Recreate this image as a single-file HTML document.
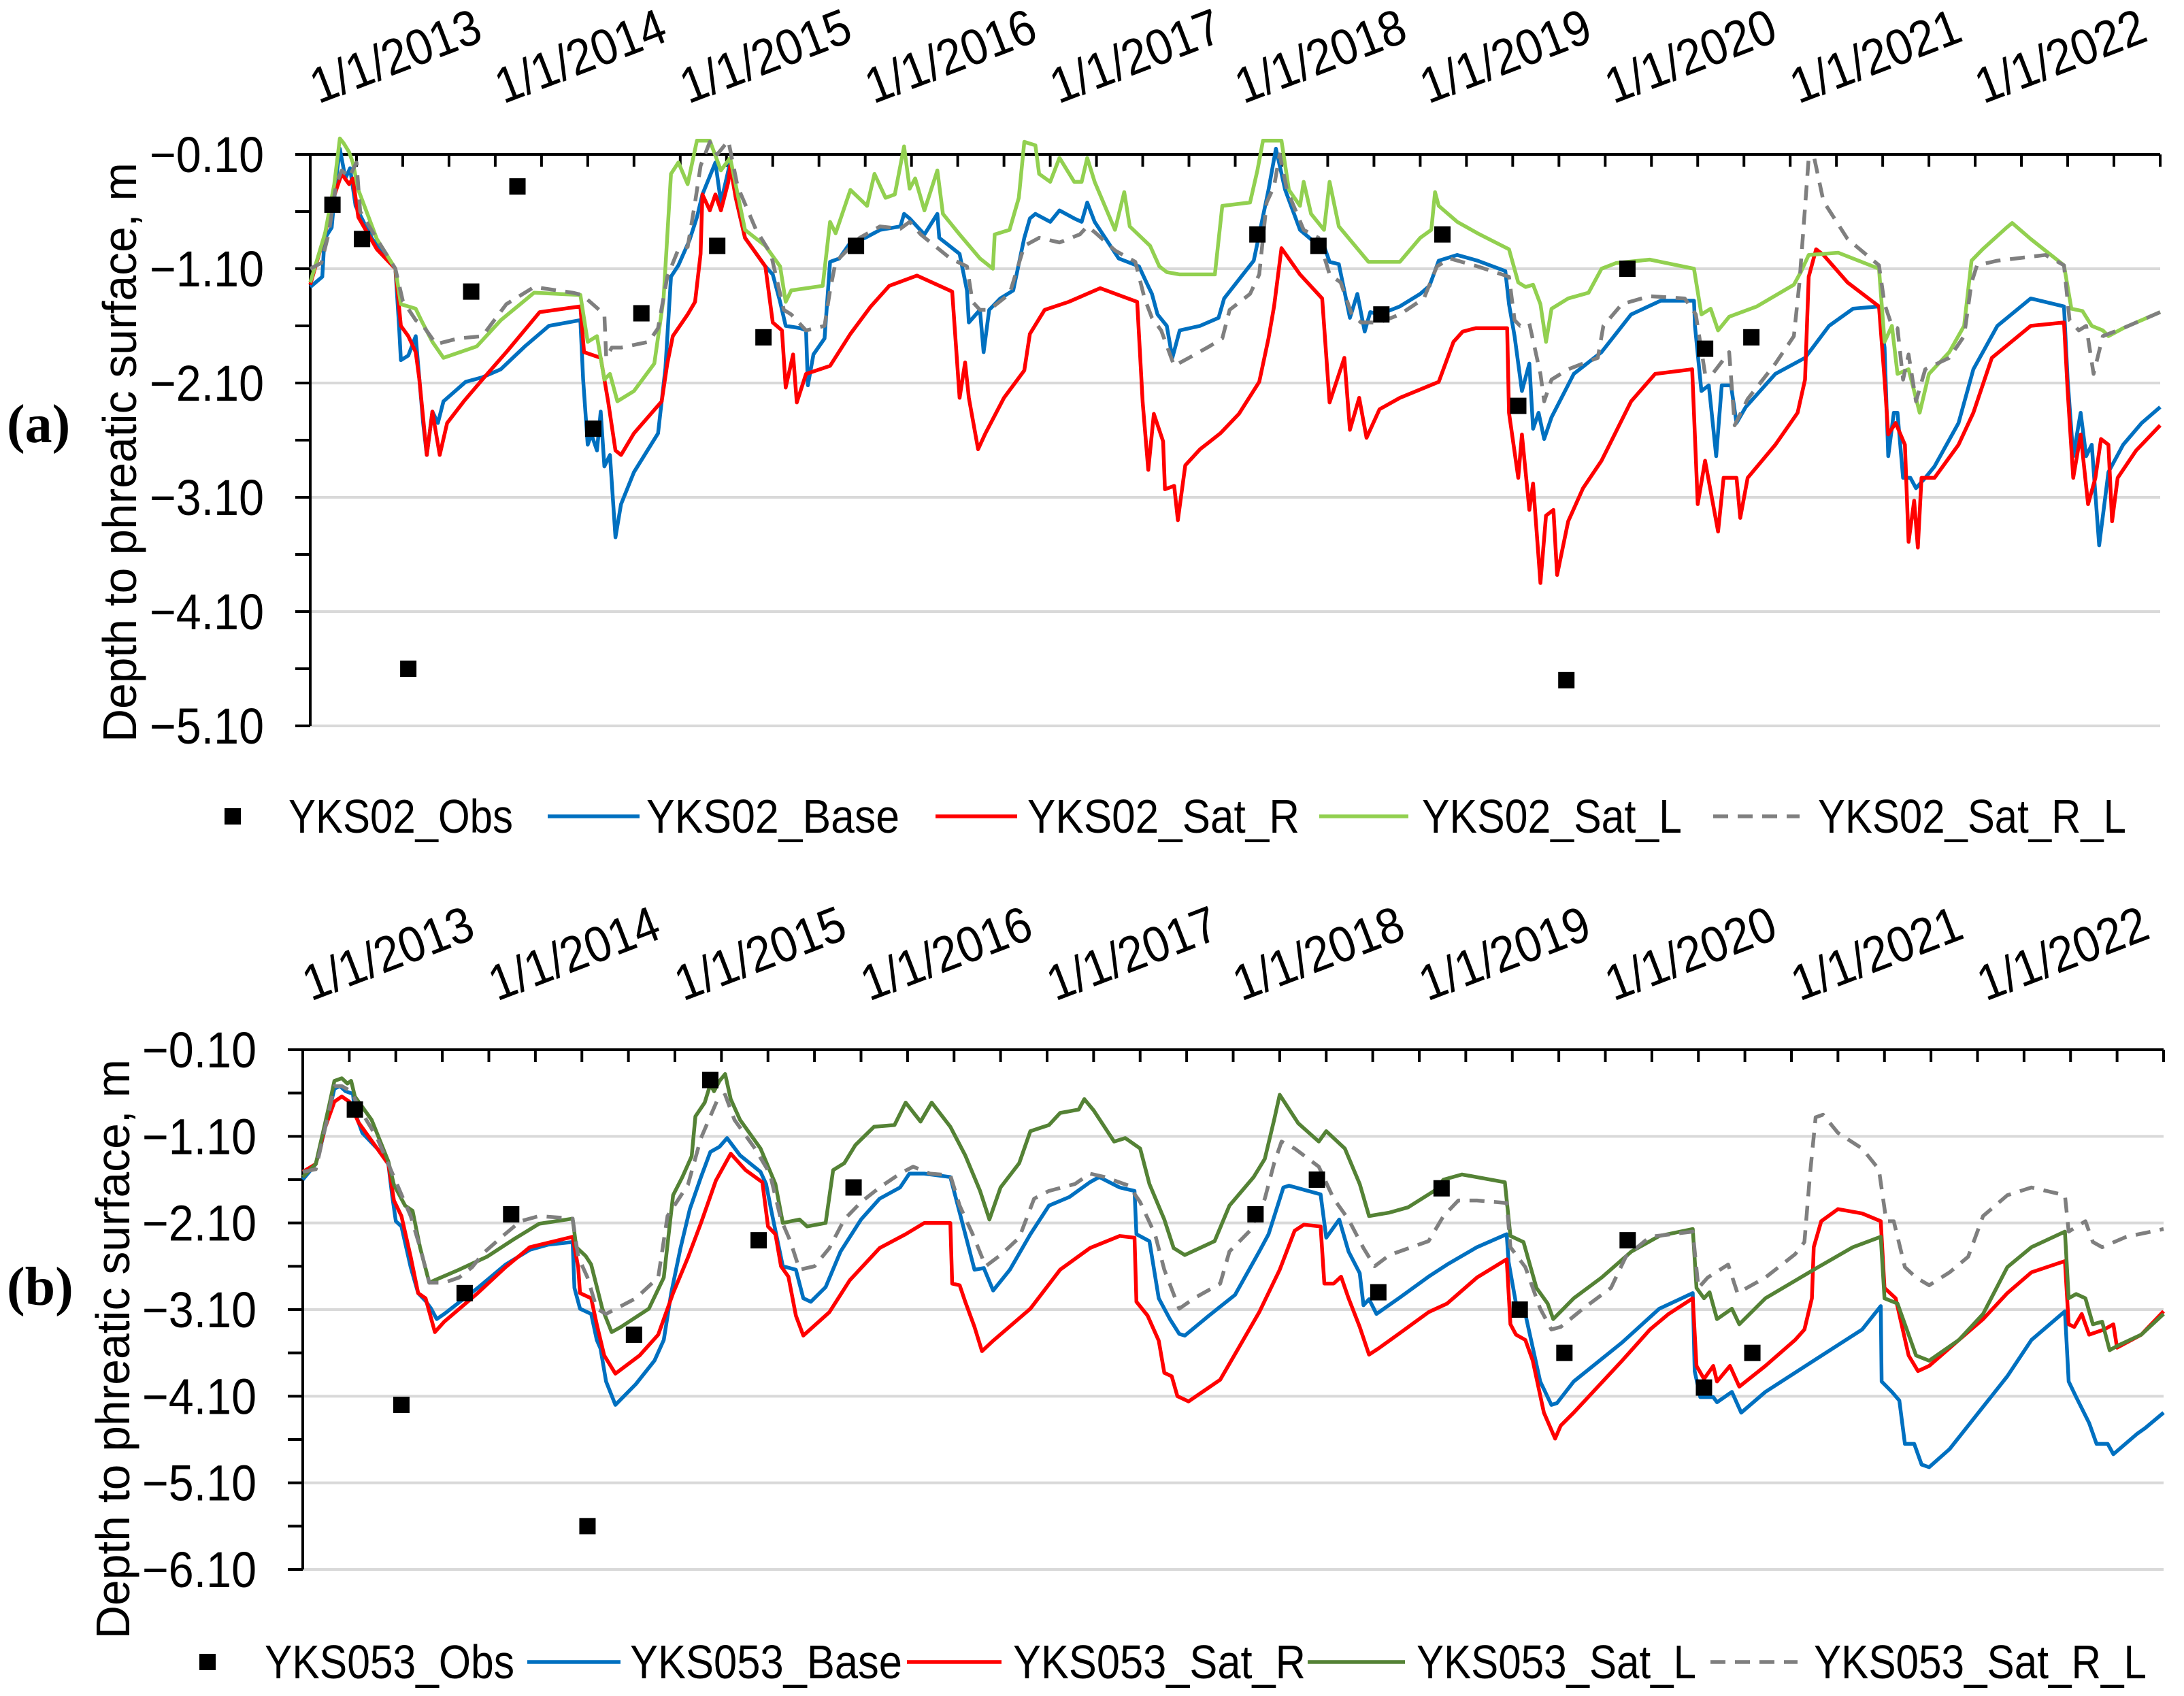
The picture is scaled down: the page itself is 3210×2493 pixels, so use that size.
<!DOCTYPE html>
<html><head><meta charset="utf-8">
<style>
html,body{margin:0;padding:0;background:#fff;}
svg{display:block;}
text{font-family:"Liberation Sans",sans-serif;fill:#000;}
</style></head>
<body>
<svg id="chart" width="3210" height="2493" viewBox="0 0 3210 2493" xmlns="http://www.w3.org/2000/svg">
<rect x="0" y="0" width="3210" height="2493" fill="#fff"/>
<g id="panelA"></g>
<g id="panelB"></g>
</svg>
<script>
// ---------- shared axis data ----------
const yearLabels = ["1/1/2013","1/1/2014","1/1/2015","1/1/2016","1/1/2017","1/1/2018","1/1/2019","1/1/2020","1/1/2021","1/1/2022"];
const yTicksA = [-0.10,-1.10,-2.10,-3.10,-4.10,-5.10];
const yTicksB = [-0.10,-1.10,-2.10,-3.10,-4.10,-5.10,-6.10];

// ---------- panel (a) YKS02 data: t = years since 1/1/2013, v = depth (m) ----------
const aObsT = [0.12,0.28,0.53,0.87,1.12,1.53,1.79,2.20,2.45,2.95,5.12,5.45,5.79,6.12,6.53,6.79,7.12,7.54,7.79];
const aObsV = [-0.54,-0.84,-4.60,-1.30,-0.38,-2.50,-1.49,-0.90,-1.70,-0.90,-0.80,-0.90,-1.50,-0.80,-2.30,-4.70,-1.10,-1.80,-1.70];

const aBaseT = [0,0.065,0.077,0.116,0.14,0.16,0.19,0.215,0.245,0.335,0.46,0.48,0.49,0.53,0.57,0.61,0.63,0.66,0.69,0.72,0.84,0.93,1.03,1.16,1.29,1.46,1.475,1.50,1.52,1.55,1.57,1.59,1.62,1.65,1.68,1.75,1.88,1.92,1.95,1.99,2.05,2.09,2.12,2.19,2.22,2.27,2.30,2.35,2.46,2.50,2.54,2.57,2.65,2.68,2.69,2.72,2.78,2.81,2.86,2.92,3.0,3.08,3.19,3.21,3.24,3.32,3.39,3.40,3.51,3.55,3.56,3.62,3.64,3.67,3.73,3.80,3.86,3.89,3.92,4.0,4.05,4.13,4.17,4.2,4.24,4.37,4.48,4.52,4.55,4.58,4.63,4.66,4.70,4.81,4.91,4.94,5.10,5.13,5.18,5.22,5.27,5.35,5.43,5.48,5.51,5.56,5.62,5.66,5.70,5.73,5.78,5.89,6.0,6.05,6.10,6.20,6.31,6.46,6.48,6.51,6.55,6.59,6.61,6.64,6.67,6.71,6.83,6.98,7.14,7.30,7.48,7.485,7.52,7.56,7.60,7.63,7.68,7.71,7.76,7.92,8.08,8.21,8.34,8.48,8.51,8.53,8.56,8.58,8.61,8.65,8.68,8.73,8.78,8.91,8.99,9.12,9.30,9.48,9.50,9.53,9.57,9.60,9.63,9.67,9.72,9.80,9.90,10.0];
const aBaseV = [-1.26,-1.17,-0.84,-0.74,-0.31,-0.05,-0.31,-0.22,-0.55,-0.84,-1.10,-1.60,-1.90,-1.86,-1.69,-2.45,-2.73,-2.35,-2.45,-2.26,-2.09,-2.05,-1.98,-1.78,-1.60,-1.55,-2.07,-2.64,-2.55,-2.69,-2.35,-2.83,-2.73,-3.45,-3.16,-2.88,-2.54,-1.97,-1.17,-1.07,-0.85,-0.65,-0.45,-0.17,-0.52,-0.17,-0.48,-0.83,-1.08,-1.15,-1.39,-1.60,-1.62,-1.64,-2.12,-1.85,-1.71,-1.04,-1.01,-0.87,-0.83,-0.76,-0.73,-0.62,-0.66,-0.80,-0.62,-0.83,-0.97,-1.29,-1.57,-1.46,-1.83,-1.46,-1.36,-1.29,-0.83,-0.66,-0.62,-0.69,-0.59,-0.66,-0.69,-0.52,-0.69,-1.01,-1.08,-1.22,-1.32,-1.50,-1.60,-1.88,-1.64,-1.60,-1.53,-1.36,-1.03,-0.80,-0.41,-0.05,-0.41,-0.76,-0.87,-0.90,-1.04,-1.06,-1.53,-1.32,-1.65,-1.48,-1.50,-1.43,-1.32,-1.25,-1.03,-0.98,-1.03,-1.12,-1.41,-1.69,-2.17,-1.93,-2.50,-2.36,-2.59,-2.40,-2.02,-1.83,-1.50,-1.38,-1.38,-1.60,-2.17,-2.12,-2.74,-2.12,-2.12,-2.45,-2.31,-2.02,-1.88,-1.60,-1.45,-1.43,-1.79,-2.74,-2.36,-2.36,-2.93,-2.93,-3.02,-2.93,-2.83,-2.45,-1.98,-1.60,-1.36,-1.43,-2.07,-2.74,-2.36,-2.74,-2.64,-3.52,-2.88,-2.64,-2.45,-2.31];

const aSatRT = [0,0.08,0.13,0.17,0.21,0.23,0.26,0.36,0.46,0.49,0.53,0.57,0.59,0.63,0.66,0.70,0.74,0.83,0.93,1.06,1.24,1.46,1.48,1.57,1.61,1.65,1.68,1.75,1.90,1.93,1.96,2.04,2.08,2.11,2.12,2.16,2.19,2.22,2.26,2.27,2.30,2.35,2.46,2.50,2.55,2.57,2.61,2.63,2.68,2.81,2.92,3.03,3.13,3.28,3.47,3.51,3.54,3.56,3.61,3.65,3.75,3.86,3.89,3.97,4.10,4.27,4.47,4.50,4.53,4.56,4.61,4.62,4.67,4.69,4.73,4.81,4.92,5.02,5.13,5.18,5.21,5.25,5.35,5.47,5.51,5.59,5.62,5.67,5.71,5.78,5.89,6.10,6.18,6.23,6.30,6.47,6.48,6.53,6.55,6.59,6.61,6.65,6.68,6.72,6.74,6.80,6.88,6.98,7.14,7.27,7.47,7.50,7.54,7.61,7.64,7.71,7.73,7.77,7.92,8.04,8.08,8.10,8.14,8.18,8.31,8.48,8.51,8.53,8.57,8.62,8.64,8.67,8.69,8.71,8.78,8.91,8.99,9.09,9.30,9.48,9.50,9.53,9.57,9.61,9.65,9.68,9.72,9.74,9.77,9.87,10.0];
const aSatRV = [-1.24,-0.79,-0.46,-0.27,-0.36,-0.31,-0.65,-0.93,-1.10,-1.60,-1.69,-1.83,-2.07,-2.73,-2.35,-2.73,-2.45,-2.26,-2.07,-1.83,-1.48,-1.43,-1.83,-1.88,-2.26,-2.69,-2.73,-2.54,-2.26,-1.93,-1.69,-1.50,-1.39,-0.97,-0.45,-0.59,-0.45,-0.59,-0.34,-0.20,-0.48,-0.83,-1.08,-1.57,-1.64,-2.14,-1.85,-2.27,-2.02,-1.95,-1.67,-1.43,-1.25,-1.16,-1.30,-2.23,-1.92,-2.23,-2.68,-2.54,-2.23,-1.99,-1.67,-1.46,-1.39,-1.27,-1.39,-2.27,-2.86,-2.37,-2.61,-3.03,-3.00,-3.30,-2.82,-2.68,-2.54,-2.37,-2.09,-1.71,-1.43,-0.92,-1.15,-1.36,-2.27,-1.88,-2.51,-2.23,-2.58,-2.33,-2.23,-2.09,-1.74,-1.65,-1.62,-1.62,-2.36,-2.93,-2.55,-3.21,-2.98,-3.85,-3.26,-3.21,-3.78,-3.31,-3.02,-2.78,-2.26,-2.02,-1.98,-3.16,-2.78,-3.40,-2.93,-2.93,-3.28,-2.93,-2.64,-2.36,-2.07,-1.17,-0.93,-0.98,-1.22,-1.43,-2.07,-2.55,-2.45,-2.64,-3.49,-3.13,-3.54,-2.93,-2.93,-2.64,-2.36,-1.88,-1.60,-1.57,-2.17,-2.93,-2.55,-3.16,-2.93,-2.59,-2.64,-3.31,-2.93,-2.69,-2.47];

const aSatLT = [0,0.08,0.13,0.16,0.18,0.21,0.23,0.26,0.36,0.46,0.49,0.57,0.60,0.66,0.72,0.90,1.03,1.21,1.46,1.50,1.55,1.59,1.62,1.66,1.75,1.86,1.91,1.95,1.99,2.04,2.09,2.16,2.22,2.27,2.35,2.46,2.54,2.57,2.60,2.77,2.81,2.84,2.92,3.01,3.05,3.11,3.16,3.21,3.24,3.27,3.32,3.39,3.42,3.51,3.62,3.69,3.70,3.78,3.83,3.86,3.92,3.94,4.0,4.05,4.13,4.17,4.2,4.24,4.35,4.40,4.43,4.54,4.59,4.63,4.70,4.89,4.93,5.08,5.12,5.15,5.25,5.29,5.35,5.37,5.41,5.48,5.51,5.56,5.72,5.89,6.0,6.06,6.08,6.10,6.20,6.31,6.48,6.53,6.57,6.61,6.65,6.68,6.71,6.80,6.91,6.98,7.06,7.24,7.48,7.52,7.57,7.61,7.67,7.82,8.02,8.06,8.10,8.26,8.48,8.51,8.55,8.58,8.64,8.70,8.75,8.86,8.94,8.98,9.04,9.17,9.20,9.30,9.48,9.52,9.58,9.63,9.69,9.72,9.80,10.0];
const aSatLV = [-1.22,-0.79,-0.36,0.04,0.0,-0.08,-0.17,-0.41,-0.84,-1.10,-1.41,-1.45,-1.55,-1.74,-1.88,-1.78,-1.55,-1.31,-1.33,-1.74,-1.69,-2.07,-2.02,-2.26,-2.17,-1.93,-1.36,-0.27,-0.17,-0.36,0.02,0.02,-0.24,-0.13,-0.76,-0.90,-1.08,-1.39,-1.29,-1.25,-0.69,-0.79,-0.41,-0.55,-0.27,-0.48,-0.45,-0.03,-0.40,-0.31,-0.59,-0.24,-0.62,-0.80,-1.01,-1.10,-0.80,-0.76,-0.48,0.01,-0.02,-0.27,-0.34,-0.13,-0.34,-0.34,-0.13,-0.34,-0.76,-0.43,-0.73,-0.90,-1.08,-1.13,-1.15,-1.15,-0.55,-0.52,-0.24,0.02,0.02,-0.41,-0.55,-0.34,-0.62,-0.76,-0.34,-0.73,-1.04,-1.04,-0.83,-0.76,-0.43,-0.55,-0.69,-0.79,-0.93,-1.22,-1.26,-1.24,-1.41,-1.74,-1.45,-1.36,-1.31,-1.10,-1.05,-1.02,-1.10,-1.50,-1.45,-1.64,-1.52,-1.43,-1.24,-1.12,-0.98,-0.96,-1.10,-1.74,-1.60,-2.02,-1.98,-2.36,-2.02,-1.83,-1.60,-1.03,-0.93,-0.74,-0.70,-0.84,-1.07,-1.45,-1.47,-1.60,-1.64,-1.69,-1.62,-1.48];

const aSatRLT = [0,0.06,0.10,0.14,0.17,0.21,0.25,0.27,0.36,0.46,0.50,0.57,0.61,0.65,0.68,0.80,0.93,1.06,1.21,1.42,1.47,1.59,1.60,1.63,1.68,1.83,1.88,1.93,1.99,2.04,2.08,2.11,2.16,2.20,2.26,2.31,2.41,2.49,2.56,2.60,2.68,2.78,2.81,2.84,2.97,3.08,3.19,3.24,3.30,3.46,3.55,3.58,3.62,3.67,3.78,3.86,3.94,4.05,4.16,4.20,4.24,4.35,4.46,4.51,4.55,4.60,4.67,4.75,4.86,4.93,4.97,5.08,5.13,5.17,5.21,5.24,5.28,5.37,5.45,5.51,5.57,5.63,5.68,5.78,5.89,6.02,6.09,6.16,6.31,6.48,6.51,6.54,6.59,6.65,6.67,6.71,6.80,6.96,6.99,7.09,7.24,7.43,7.49,7.54,7.58,7.67,7.70,7.77,7.92,8.02,8.05,8.10,8.13,8.18,8.31,8.48,8.51,8.55,8.58,8.61,8.64,8.68,8.73,8.86,8.94,8.98,9.01,9.12,9.38,9.48,9.51,9.56,9.60,9.64,9.69,9.80,10.0];
const aSatRLV = [-1.10,-1.05,-0.79,-0.36,-0.24,-0.30,-0.17,-0.60,-0.84,-1.10,-1.38,-1.55,-1.60,-1.69,-1.76,-1.71,-1.69,-1.41,-1.26,-1.31,-1.33,-1.50,-1.88,-1.79,-1.79,-1.74,-1.62,-1.17,-0.93,-0.91,-0.52,-0.20,0.01,-0.10,0.02,-0.38,-0.76,-0.97,-1.46,-1.50,-1.64,-1.60,-1.29,-1.04,-0.83,-0.73,-0.75,-0.69,-0.80,-1.01,-1.08,-1.39,-1.46,-1.46,-1.32,-0.90,-0.83,-0.87,-0.80,-0.73,-0.78,-0.94,-1.04,-1.36,-1.53,-1.64,-1.95,-1.88,-1.78,-1.71,-1.46,-1.32,-1.15,-0.52,-0.38,-0.10,-0.41,-0.76,-0.83,-1.15,-1.22,-1.50,-1.57,-1.57,-1.50,-1.36,-1.08,-1.01,-1.08,-1.17,-1.55,-1.60,-1.58,-2.02,-2.26,-2.07,-1.98,-1.88,-1.60,-1.41,-1.34,-1.36,-1.50,-2.02,-2.02,-1.83,-2.47,-2.24,-1.93,-1.69,-1.22,-0.13,-0.13,-0.51,-0.84,-1.07,-1.41,-1.60,-1.62,-2.07,-1.85,-2.26,-1.98,-1.88,-1.69,-1.22,-1.07,-1.03,-0.98,-1.07,-1.55,-1.64,-1.60,-2.02,-1.69,-1.62,-1.48];

// ---------- panel (b) YKS053 data ----------
const bObsT = [0.28,0.53,0.87,1.12,1.53,1.78,2.19,2.45,2.96,5.12,5.45,5.78,6.12,6.54,6.78,7.12,7.53,7.79];
const bObsV = [-0.79,-4.20,-2.91,-2.00,-5.60,-3.39,-0.45,-2.30,-1.69,-2.00,-1.60,-2.90,-1.70,-3.10,-3.60,-2.30,-4.00,-3.60];

const bBaseT = [0,0.07,0.10,0.14,0.17,0.20,0.23,0.27,0.28,0.32,0.40,0.46,0.48,0.50,0.53,0.58,0.62,0.66,0.69,0.72,0.76,0.94,1.09,1.22,1.32,1.45,1.46,1.49,1.55,1.58,1.60,1.63,1.68,1.79,1.89,1.94,1.98,2.03,2.08,2.14,2.19,2.24,2.28,2.35,2.46,2.49,2.52,2.58,2.65,2.69,2.73,2.81,2.89,3.0,3.10,3.21,3.26,3.34,3.48,3.53,3.61,3.66,3.71,3.80,3.91,4.01,4.12,4.23,4.28,4.39,4.47,4.48,4.55,4.60,4.66,4.71,4.74,4.87,5.01,5.14,5.19,5.27,5.30,5.47,5.50,5.57,5.62,5.68,5.70,5.73,5.77,5.89,6.05,6.15,6.31,6.47,6.48,6.52,6.57,6.65,6.71,6.74,6.83,7.09,7.29,7.47,7.48,7.51,7.58,7.60,7.68,7.73,7.86,8.12,8.38,8.48,8.485,8.54,8.58,8.61,8.66,8.70,8.74,8.85,8.95,9.16,9.29,9.47,9.49,9.53,9.60,9.64,9.70,9.73,9.86,9.90,10.0];
const bBaseV = [-1.60,-1.42,-1.18,-0.82,-0.55,-0.52,-0.58,-0.61,-0.82,-1.06,-1.24,-1.42,-1.78,-2.08,-2.14,-2.61,-2.91,-3.00,-3.09,-3.21,-3.15,-2.85,-2.58,-2.41,-2.35,-2.32,-2.85,-3.09,-3.15,-3.45,-3.55,-3.93,-4.20,-3.96,-3.69,-3.45,-2.91,-2.39,-1.94,-1.57,-1.28,-1.22,-1.12,-1.32,-1.51,-1.65,-1.98,-2.60,-2.64,-2.97,-3.01,-2.84,-2.43,-2.06,-1.82,-1.69,-1.53,-1.53,-1.57,-1.98,-2.64,-2.62,-2.88,-2.64,-2.23,-1.90,-1.80,-1.63,-1.57,-1.69,-1.73,-2.23,-2.31,-2.97,-3.21,-3.38,-3.40,-3.17,-2.93,-2.43,-2.23,-1.69,-1.67,-1.77,-2.27,-2.06,-2.43,-2.68,-3.05,-2.98,-3.15,-2.97,-2.72,-2.58,-2.38,-2.23,-2.55,-3.03,-3.15,-3.93,-4.20,-4.18,-3.93,-3.48,-3.09,-2.91,-3.81,-4.11,-4.11,-4.17,-4.05,-4.29,-4.05,-3.69,-3.33,-3.06,-3.93,-4.05,-4.15,-4.65,-4.65,-4.89,-4.92,-4.71,-4.44,-3.87,-3.45,-3.12,-3.93,-4.11,-4.41,-4.65,-4.65,-4.77,-4.53,-4.47,-4.29];

const bSatRT = [0,0.07,0.12,0.17,0.21,0.25,0.30,0.40,0.46,0.49,0.53,0.58,0.62,0.66,0.71,0.76,0.94,1.09,1.22,1.45,1.48,1.49,1.55,1.58,1.62,1.68,1.81,1.91,1.99,2.07,2.14,2.22,2.30,2.38,2.47,2.50,2.54,2.57,2.61,2.65,2.69,2.83,2.94,3.10,3.24,3.34,3.48,3.49,3.53,3.56,3.61,3.65,3.71,3.91,4.07,4.23,4.39,4.47,4.48,4.54,4.60,4.63,4.67,4.70,4.76,4.93,5.03,5.14,5.25,5.33,5.38,5.47,5.49,5.54,5.58,5.62,5.68,5.73,5.78,5.89,6.05,6.15,6.31,6.47,6.49,6.52,6.57,6.61,6.67,6.73,6.76,6.83,6.96,7.09,7.24,7.34,7.47,7.49,7.53,7.58,7.60,7.67,7.72,7.86,8.02,8.07,8.11,8.12,8.16,8.25,8.38,8.48,8.50,8.56,8.63,8.68,8.74,8.90,9.03,9.16,9.29,9.47,9.49,9.52,9.56,9.60,9.68,9.73,9.75,9.88,10.0];
const bSatRV = [-1.51,-1.42,-1.00,-0.70,-0.64,-0.70,-0.94,-1.24,-1.42,-1.84,-2.02,-2.49,-2.91,-2.97,-3.36,-3.24,-2.91,-2.61,-2.38,-2.26,-2.61,-2.91,-2.97,-3.27,-3.63,-3.84,-3.63,-3.39,-2.91,-2.50,-2.10,-1.61,-1.30,-1.49,-1.63,-2.14,-2.23,-2.60,-2.72,-3.17,-3.40,-3.13,-2.76,-2.39,-2.23,-2.10,-2.10,-2.80,-2.82,-3.01,-3.30,-3.58,-3.46,-3.09,-2.64,-2.39,-2.25,-2.27,-3.01,-3.17,-3.46,-3.83,-3.87,-4.10,-4.16,-3.91,-3.54,-3.13,-2.64,-2.19,-2.12,-2.14,-2.80,-2.80,-2.72,-2.97,-3.30,-3.62,-3.55,-3.38,-3.13,-3.03,-2.73,-2.52,-3.27,-3.39,-3.45,-3.69,-4.29,-4.59,-4.44,-4.29,-3.99,-3.69,-3.33,-3.15,-2.97,-3.75,-3.90,-3.75,-3.93,-3.75,-3.99,-3.75,-3.45,-3.33,-2.97,-2.38,-2.08,-1.94,-1.99,-2.08,-2.85,-2.97,-3.63,-3.81,-3.75,-3.45,-3.21,-2.91,-2.67,-2.54,-3.27,-3.30,-3.15,-3.39,-3.33,-3.27,-3.54,-3.39,-3.12];

const bSatLT = [0,0.07,0.14,0.17,0.21,0.24,0.26,0.28,0.37,0.46,0.49,0.55,0.59,0.63,0.68,0.71,0.84,0.99,1.14,1.27,1.45,1.47,1.52,1.55,1.61,1.66,1.71,1.86,1.94,1.99,2.04,2.09,2.11,2.16,2.19,2.21,2.24,2.27,2.30,2.35,2.46,2.54,2.58,2.67,2.71,2.81,2.85,2.91,2.97,3.07,3.18,3.24,3.32,3.38,3.48,3.56,3.64,3.69,3.75,3.85,3.91,4.01,4.07,4.17,4.20,4.25,4.36,4.42,4.50,4.55,4.63,4.68,4.74,4.90,4.98,5.11,5.17,5.22,5.25,5.35,5.46,5.50,5.60,5.68,5.73,5.84,5.94,6.08,6.13,6.23,6.46,6.49,6.56,6.63,6.69,6.72,6.83,6.98,7.14,7.29,7.47,7.49,7.53,7.56,7.60,7.68,7.72,7.86,8.12,8.33,8.48,8.50,8.57,8.61,8.67,8.74,8.90,9.03,9.16,9.29,9.47,9.49,9.53,9.58,9.62,9.67,9.71,9.75,9.88,10.0];
const bSatLV = [-1.57,-1.42,-0.76,-0.46,-0.43,-0.49,-0.46,-0.64,-0.91,-1.39,-1.66,-1.90,-1.96,-2.38,-2.79,-2.76,-2.64,-2.49,-2.28,-2.11,-2.05,-2.38,-2.48,-2.58,-3.09,-3.36,-3.30,-3.09,-2.73,-1.78,-1.57,-1.33,-0.87,-0.71,-0.50,-0.58,-0.46,-0.38,-0.67,-0.91,-1.24,-1.65,-2.10,-2.06,-2.14,-2.10,-1.49,-1.41,-1.20,-0.99,-0.97,-0.71,-0.93,-0.71,-0.99,-1.32,-1.73,-2.06,-1.69,-1.41,-1.04,-0.97,-0.83,-0.79,-0.67,-0.80,-1.16,-1.12,-1.24,-1.65,-2.06,-2.39,-2.47,-2.31,-1.90,-1.57,-1.36,-0.91,-0.62,-0.95,-1.16,-1.04,-1.24,-1.65,-2.02,-1.98,-1.92,-1.73,-1.60,-1.54,-1.63,-2.25,-2.32,-2.85,-3.03,-3.21,-2.97,-2.73,-2.43,-2.25,-2.17,-2.85,-2.97,-2.90,-3.21,-3.09,-3.27,-2.97,-2.64,-2.38,-2.26,-2.97,-3.03,-3.27,-3.63,-3.69,-3.45,-3.15,-2.61,-2.38,-2.20,-2.97,-2.92,-2.97,-3.27,-3.24,-3.57,-3.52,-3.39,-3.15];

const bSatRLT = [0,0.07,0.14,0.17,0.21,0.26,0.30,0.40,0.46,0.52,0.58,0.63,0.68,0.76,0.84,0.91,0.97,1.07,1.17,1.27,1.45,1.48,1.53,1.58,1.63,1.79,1.91,1.96,2.07,2.14,2.19,2.23,2.27,2.32,2.43,2.51,2.57,2.62,2.67,2.75,2.83,2.91,3.0,3.10,3.21,3.28,3.37,3.48,3.53,3.60,3.67,3.75,3.85,3.93,4.01,4.15,4.23,4.31,4.44,4.50,4.58,4.63,4.71,4.79,4.93,4.98,5.09,5.17,5.22,5.26,5.33,5.46,5.54,5.62,5.70,5.76,5.84,6.05,6.13,6.21,6.31,6.47,6.49,6.57,6.65,6.71,6.76,6.88,7.03,7.11,7.24,7.47,7.50,7.55,7.66,7.71,7.86,8.02,8.07,8.10,8.13,8.17,8.25,8.38,8.47,8.51,8.55,8.61,8.67,8.74,8.85,8.95,9.03,9.16,9.29,9.47,9.49,9.58,9.62,9.67,9.80,10.0];
const bSatRLV = [-1.51,-1.48,-0.82,-0.52,-0.52,-0.58,-0.76,-1.12,-1.42,-1.72,-2.02,-2.38,-2.79,-2.79,-2.73,-2.61,-2.45,-2.26,-2.08,-2.02,-2.05,-2.49,-2.73,-3.09,-3.15,-2.97,-2.73,-2.02,-1.66,-1.12,-0.87,-0.67,-0.62,-0.91,-1.24,-1.53,-2.06,-2.31,-2.64,-2.60,-2.39,-2.06,-1.86,-1.69,-1.53,-1.45,-1.53,-1.55,-1.90,-2.23,-2.60,-2.47,-2.27,-1.82,-1.73,-1.65,-1.53,-1.57,-1.67,-1.86,-2.23,-2.64,-3.09,-2.97,-2.80,-2.43,-2.19,-1.82,-1.41,-1.16,-1.24,-1.45,-1.82,-2.06,-2.39,-2.60,-2.47,-2.31,-2.02,-1.84,-1.84,-1.87,-2.38,-2.61,-3.09,-3.33,-3.30,-3.09,-2.85,-2.49,-2.26,-2.20,-2.85,-2.73,-2.58,-2.91,-2.73,-2.46,-2.32,-1.54,-0.88,-0.85,-1.06,-1.24,-1.48,-2.08,-2.08,-2.61,-2.73,-2.82,-2.67,-2.49,-2.02,-1.78,-1.69,-1.78,-2.20,-2.08,-2.32,-2.38,-2.26,-2.17];

// ---------- drawing ----------
const NS = "http://www.w3.org/2000/svg";
function mk(tag, attrs, parent) {
  const el = document.createElementNS(NS, tag);
  for (const k in attrs) el.setAttribute(k, attrs[k]);
  parent.appendChild(el);
  return el;
}

function drawPanel(g, cfg) {
  const xScale = t => cfg.x0 + (t / 10) * (cfg.x1 - cfg.x0);
  const yScale = v => cfg.y0 + (cfg.vTop - v) / (cfg.vTop - cfg.vBot) * (cfg.y1 - cfg.y0);

  cfg.yTicks.forEach((v, i) => {
    if (i === 0) return;
    const ln = mk("line", {x1: cfg.x0, x2: cfg.x1, y1: yScale(v), y2: yScale(v), stroke: "#d9d9d9", "stroke-width": 4}, g);
    
    
  });
  for (let v = cfg.vTop; v >= cfg.vBot - 1e-6; v -= 0.5) {
    const tk = mk("line", {x1: cfg.x0 - 22, x2: cfg.x0, y1: yScale(v), y2: yScale(v), stroke: "#000", "stroke-width": 4}, g);
    
    
  }
  cfg.yTicks.forEach(v => {
    const t = mk("text", {x: cfg.labelRight, y: yScale(v) + 26, "text-anchor": "end", "font-size": 74, textLength: 168, lengthAdjust: "spacingAndGlyphs"}, g);
    t.textContent = "\u2212" + Math.abs(v).toFixed(2);
    
    
  });
  for (let q = 0; q <= 40; q++) {
    const x = xScale(q / 4);
    const tk = mk("line", {x1: x, x2: x, y1: cfg.y0, y2: cfg.y0 + 18, stroke: "#000", "stroke-width": 4}, g);
    
    
  }
  const ya = mk("line", {x1: cfg.x0, x2: cfg.x0, y1: cfg.y0, y2: cfg.y1, stroke: "#000", "stroke-width": 4}, g);
  
  
  const xa = mk("line", {x1: cfg.x0 - 22, x2: cfg.x1, y1: cfg.y0, y2: cfg.y0, stroke: "#000", "stroke-width": 4}, g);
  
  
  yearLabels.forEach((lab, i) => {
    const x = xScale(i) + 12, y = cfg.labelBase;
    const t = mk("text", {x: x, y: y, "font-size": 74, transform: `rotate(-21 ${x} ${y})`, textLength: 262, lengthAdjust: "spacingAndGlyphs"}, g);
    t.textContent = lab;
    
    
  });
  const tt = mk("text", {x: cfg.titleX, y: cfg.titleY, "text-anchor": "middle", "font-size": 70, transform: `rotate(-90 ${cfg.titleX} ${cfg.titleY})`, textLength: 852, lengthAdjust: "spacingAndGlyphs"}, g);
  tt.textContent = "Depth to phreatic surface, m";
  
  
  const pl = mk("text", {x: 10, y: cfg.letterY, "font-size": 80, "font-weight": "bold", style: 'font-family:"Liberation Serif",serif'}, g);
  pl.textContent = cfg.letter;
  
  

  cfg.series.forEach(s => {
    let d = "";
    s.t.forEach((t, i) => { d += (i ? "L" : "M") + xScale(t).toFixed(1) + " " + yScale(s.v[i]).toFixed(1) + " "; });
    const p = mk("path", {d: d, fill: "none", stroke: s.color, "stroke-width": 5.5, "stroke-linejoin": "round"}, g);
    if (s.dash) p.setAttribute("stroke-dasharray", "22 14");
    
    
  });
  cfg.obsT.forEach((t, i) => {
    const r = mk("rect", {x: xScale(t) - 12, y: yScale(cfg.obsV[i]) - 12, width: 24, height: 24, fill: "#000"}, g);
    
    
  });

  const ly = cfg.legendY;
  const lg = mk("g", {}, g);
  
  
  cfg.legend.forEach(item => {
    if (item.marker) {
      const m = mk("rect", {x: item.mx - 12, y: ly - 12, width: 24, height: 24, fill: "#000"}, lg);
      
      
    } else {
      const l = mk("line", {x1: item.l1, x2: item.l2, y1: ly, y2: ly, stroke: item.color, "stroke-width": 5.5}, lg);
      if (item.dash) l.setAttribute("stroke-dasharray", "22 14");
      
      
    }
    const tx = mk("text", {x: item.tx, y: ly + 24, "font-size": 70, textLength: item.tw, lengthAdjust: "spacingAndGlyphs"}, lg);
    tx.textContent = item.label;
    
    
  });
}

drawPanel(document.getElementById("panelA"), {
  x0: 456, x1: 3175, y0: 227, y1: 1067, vTop: -0.10, vBot: -5.10,
  yTicks: yTicksA, labelRight: 388, labelBase: 153, titleX: 200, titleY: 665,
  letter: "(a)", letterY: 650,
  obsT: aObsT, obsV: aObsV,
  series: [
    {t: aBaseT, v: aBaseV, color: "#0070C0", name: "yks02-base-line"},
    {t: aSatRT, v: aSatRV, color: "#FF0000", name: "yks02-sat-r-line"},
    {t: aSatLT, v: aSatLV, color: "#92D050", name: "yks02-sat-l-line"},
    {t: aSatRLT, v: aSatRLV, color: "#7F7F7F", dash: true, name: "yks02-sat-r-l-line"}
  ],
  legendY: 1200,
  legend: [
    {marker: true, mx: 342, tx: 424, tw: 330, label: "YKS02_Obs"},
    {l1: 805, l2: 940, color: "#0070C0", tx: 950, tw: 372, label: "YKS02_Base"},
    {l1: 1375, l2: 1495, color: "#FF0000", tx: 1510, tw: 400, label: "YKS02_Sat_R"},
    {l1: 1939, l2: 2070, color: "#92D050", tx: 2090, tw: 382, label: "YKS02_Sat_L"},
    {l1: 2518, l2: 2645, color: "#7F7F7F", dash: true, tx: 2672, tw: 453, label: "YKS02_Sat_R_L"}
  ]
});

drawPanel(document.getElementById("panelB"), {
  x0: 445, x1: 3180, y0: 1543, y1: 2307, vTop: -0.10, vBot: -6.10,
  yTicks: yTicksB, labelRight: 377, labelBase: 1472, titleX: 190, titleY: 1983,
  letter: "(b)", letterY: 1918,
  obsT: bObsT, obsV: bObsV,
  series: [
    {t: bBaseT, v: bBaseV, color: "#0070C0", name: "yks053-base-line"},
    {t: bSatRT, v: bSatRV, color: "#FF0000", name: "yks053-sat-r-line"},
    {t: bSatLT, v: bSatLV, color: "#548235", name: "yks053-sat-l-line"},
    {t: bSatRLT, v: bSatRLV, color: "#7F7F7F", dash: true, name: "yks053-sat-r-l-line"}
  ],
  legendY: 2443,
  legend: [
    {marker: true, mx: 305, tx: 389, tw: 367, label: "YKS053_Obs"},
    {l1: 775, l2: 912, color: "#0070C0", tx: 926, tw: 400, label: "YKS053_Base"},
    {l1: 1333, l2: 1472, color: "#FF0000", tx: 1489, tw: 430, label: "YKS053_Sat_R"},
    {l1: 1922, l2: 2065, color: "#548235", tx: 2082, tw: 411, label: "YKS053_Sat_L"},
    {l1: 2514, l2: 2642, color: "#7F7F7F", dash: true, tx: 2666, tw: 489, label: "YKS053_Sat_R_L"}
  ]
});
</script>
</body></html>
